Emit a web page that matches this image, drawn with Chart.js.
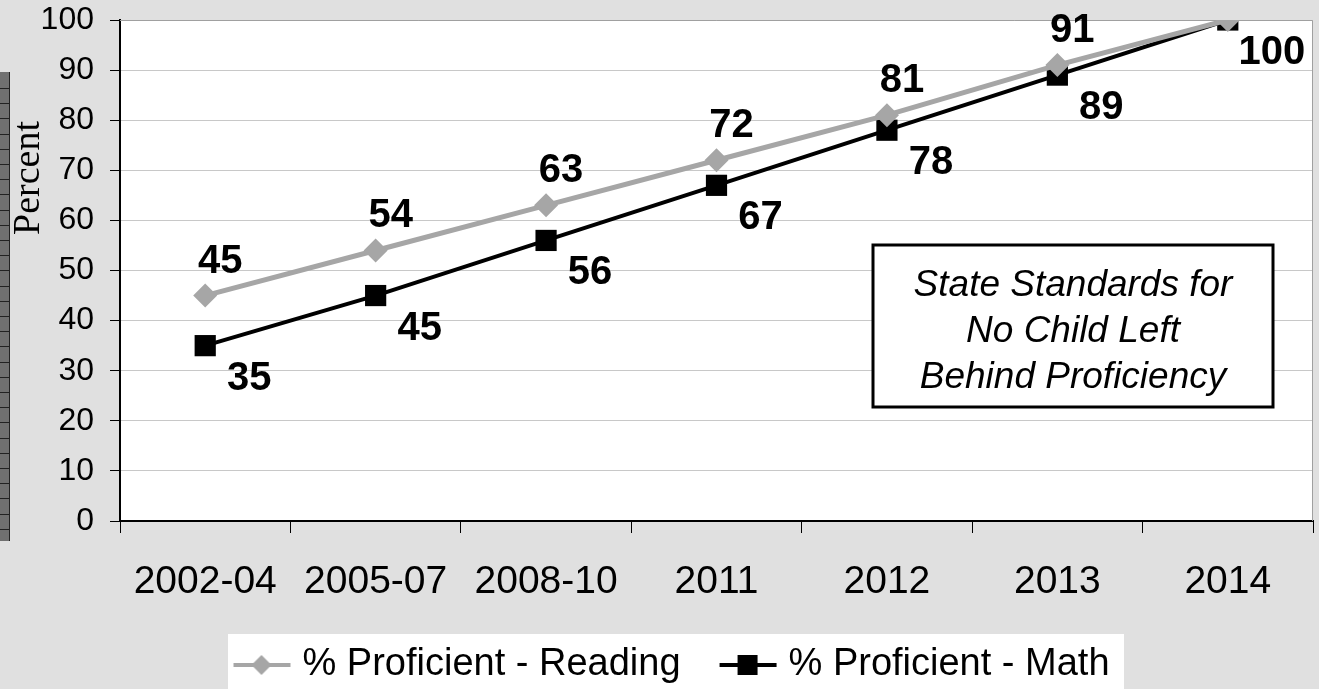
<!DOCTYPE html>
<html>
<head>
<meta charset="utf-8">
<script src="https://cdn.jsdelivr.net/npm/chart.js@4.4.1/dist/chart.umd.min.js"></script>
<style>
  html, body { margin: 0; padding: 0; background: #e0e0e0; }
  #wrap { width: 1319px; height: 689px; }
</style>
</head>
<body>
<div id="wrap"><canvas id="grafico" width="1319" height="689"></canvas></div>
<script>
// dados do grafico
const periodos = ['2002-04', '2005-07', '2008-10', '2011', '2012', '2013', '2014'];
const leitura = [45, 54, 63, 72, 81, 91, 100];
const matematica = [35, 45, 56, 67, 78, 89, 100];
const ticksY = [0, 10, 20, 30, 40, 50, 60, 70, 80, 90, 100];
const textoCaixa = ['State Standards for', 'No Child Left', 'Behind Proficiency'];

const CINZA = '#a6a6a6';

// icone da legenda: linha com marcador (canvas mais largo para ajustar o espaco)
function iconeLegenda(tipo, cor) {
    const c = document.createElement('canvas');
    c.width = 140; c.height = 24;
    const g = c.getContext('2d');
    g.strokeStyle = cor; g.fillStyle = cor; g.lineWidth = 4;
    g.beginPath(); g.moveTo(60, 12); g.lineTo(117, 12); g.stroke();
    if (tipo === 'diamante') {
        g.beginPath(); g.moveTo(88, 2); g.lineTo(98, 12); g.lineTo(88, 22); g.lineTo(78, 12); g.closePath(); g.fill();
    } else {
        g.fillRect(78, 2, 20, 20);
    }
    return c;
}

// fundo, barra lateral, titulo do eixo e borda da area
const fundo = {
    id: 'fundo',
    afterLayout(chart) {
        // estica a area do grafico ate a borda direita (1313 px)
        const a = chart.chartArea, x = chart.scales.x;
        const dx = (chart.width - 6) - a.right;
        if (dx > 0) {
            a.right += dx;
            a.width += dx;
            x.right += dx;
            x.width += dx;
            x.configure();
        }
    },
    beforeDraw(chart) {
        const ctx = chart.ctx, a = chart.chartArea;
        ctx.save();
        ctx.fillStyle = '#e0e0e0';
        ctx.fillRect(0, 0, chart.width, chart.height);
        // barra listrada a esquerda
        ctx.fillStyle = '#707070';
        ctx.fillRect(0, 72, 10, 469);
        ctx.fillStyle = '#222';
        ctx.fillRect(9, 72, 1, 469);
        for (let y = 88; y < 541; y += 15.2) ctx.fillRect(0, Math.round(y), 10, 1);
        // area do grafico
        ctx.fillStyle = '#ffffff';
        ctx.fillRect(a.left, a.top, a.right - a.left, a.bottom - a.top);
        // fundo da legenda
        ctx.fillRect(228, 634, 896, chart.height - 634);
        // titulo do eixo
        ctx.translate(29, 178);
        ctx.rotate(-Math.PI / 2);
        ctx.fillStyle = '#000';
        ctx.font = '38px "Liberation Serif", "Times New Roman", serif';
        ctx.textAlign = 'center';
        ctx.textBaseline = 'middle';
        ctx.fillText('Percent', 0, 0);
        ctx.restore();
    },
    beforeDatasetsDraw(chart) {
        const ctx = chart.ctx, a = chart.chartArea;
        ctx.save();
        ctx.strokeStyle = '#a0a0a0';
        ctx.lineWidth = 1;
        ctx.beginPath();
        ctx.moveTo(a.left, a.top + 0.5); ctx.lineTo(a.right - 0.5, a.top + 0.5); ctx.lineTo(a.right - 0.5, a.bottom);
        ctx.stroke();
        ctx.restore();
    }
};

// rotulos dos valores e caixa de texto
const rotulos = {
    id: 'rotulos',
    afterDatasetsDraw(chart) {
        const ctx = chart.ctx, a = chart.chartArea;
        ctx.save();
        ctx.font = 'bold 40px "Liberation Sans", Arial, sans-serif';
        ctx.fillStyle = '#000';
        ctx.textAlign = 'center';
        ctx.textBaseline = 'middle';
        const desloc = [[15, -34], [44, 33]];
        chart.data.datasets.forEach((ds, i) => {
            chart.getDatasetMeta(i).data.forEach((p, j) => {
                const y = p.y + desloc[i][1];
                if (y < a.top) return;
                ctx.fillText(ds.data[j], p.x + desloc[i][0], y);
            });
        });
        // caixa
        const x0 = 873, y0 = 245, w = 400, h = 162;
        ctx.fillStyle = '#fff';
        ctx.fillRect(x0, y0, w, h);
        ctx.strokeStyle = '#000';
        ctx.lineWidth = 3;
        ctx.strokeRect(x0, y0, w, h);
        ctx.fillStyle = '#000';
        ctx.font = 'italic 37px "Liberation Sans", Arial, sans-serif';
        textoCaixa.forEach((t, k) => ctx.fillText(t, x0 + w / 2, y0 + 41 + k * 46));
        ctx.restore();
    }
};

function configurarGrafico() {
    const ctx = document.getElementById('grafico').getContext('2d');
    new Chart(ctx, {
        type: 'line',
        data: {
            labels: periodos,
            datasets: [{
                label: '% Proficient - Reading',
                data: leitura,
                borderColor: CINZA,
                backgroundColor: CINZA,
                borderWidth: 5,
                pointStyle: 'rectRot',
                pointRadius: 12,
                pointBorderWidth: 0,
                fill: false,
                tension: 0
            }, {
                label: '% Proficient - Math',
                data: matematica,
                borderColor: '#000',
                backgroundColor: '#000',
                borderWidth: 4,
                pointStyle: 'rect',
                pointRadius: 15,
                pointBorderWidth: 0,
                fill: false,
                tension: 0
            }]
        },
        options: {
            responsive: false,
            animation: false,
            layout: { padding: { left: 0, right: 6, top: 20, bottom: -5 } },
            scales: {
                x: {
                    offset: true,
                    grid: { offset: true, drawOnChartArea: false, tickLength: 12, tickColor: '#000', tickWidth: 1 },
                    border: { color: '#000', width: 2 },
                    ticks: { color: '#000', padding: 26, font: { family: '"Liberation Sans", Arial, sans-serif', size: 39 } },
                    afterFit(s) { s.height = 116; s.paddingLeft = 0; s.paddingRight = 0; }
                },
                y: {
                    min: 0,
                    max: 100,
                    afterBuildTicks(s) { s.ticks = ticksY.map(v => ({ value: v })); },
                    grid: { color: '#c8c8c8', tickLength: 10, tickColor: '#000' },
                    border: { color: '#000', width: 2 },
                    ticks: { color: '#000', padding: 16, font: { family: '"Liberation Sans", Arial, sans-serif', size: 32 } },
                    afterFit(s) { s.width = 120; s.paddingTop = 0; s.paddingBottom = 0; }
                }
            },
            plugins: {
                legend: {
                    position: 'bottom',
                    labels: {
                        usePointStyle: true,
                        pointStyleWidth: 80,
                        padding: 9,
                        color: '#000',
                        font: { family: '"Liberation Sans", Arial, sans-serif', size: 38 },
                        generateLabels(chart) {
                            return chart.data.datasets.map((ds, i) => ({
                                text: ds.label,
                                pointStyle: iconeLegenda(i === 0 ? 'diamante' : 'quadrado', ds.borderColor),
                                fillStyle: ds.borderColor,
                                strokeStyle: ds.borderColor,
                                lineWidth: 0,
                                fontColor: '#000',
                                datasetIndex: i
                            }));
                        }
                    }
                },
                tooltip: { enabled: false }
            }
        },
        plugins: [fundo, rotulos]
    });
}

window.onload = function() {
    configurarGrafico();
};
</script>
</body>
</html>
